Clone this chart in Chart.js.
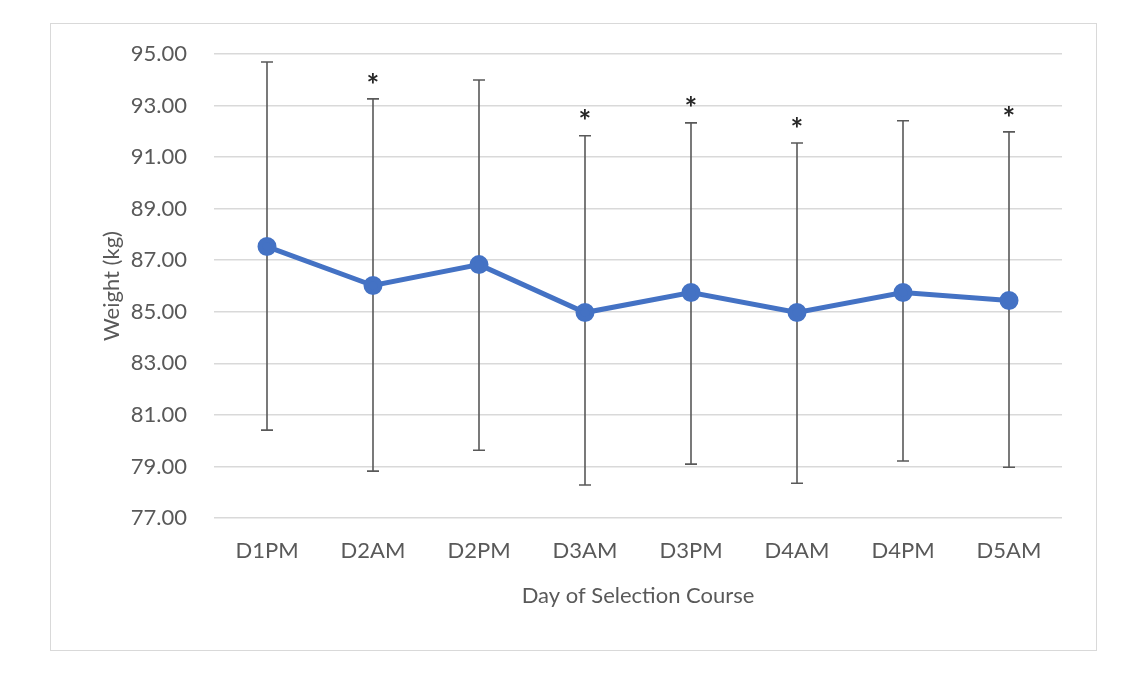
<!DOCTYPE html>
<html lang="en">
<head>
    <meta charset="UTF-8">
    <script src="https://cdn.jsdelivr.net/npm/chart.js"></script>
    <title>Weight by day</title>
    <style>
        body { margin: 0; background: #fff; }
        #frame { position: absolute; left: 50px; top: 23px; width: 1045px; height: 626px; border: 1.5px solid #d9d9d9; }
        #wrap { position: absolute; left: 0; top: 0; width: 1130px; height: 680px; }
    </style>
</head>
<body>
    <div id="frame"></div>
    <div id="wrap">
        <canvas id="grafico"></canvas>
    </div>

    <script>
        const dias = ['D1PM', 'D2AM', 'D2PM', 'D3AM', 'D3PM', 'D4AM', 'D4PM', 'D5AM']
        const peso = [87.53, 86.02, 86.83, 84.97, 85.75, 84.97, 85.75, 85.44]
        const erroAlto = [94.69, 93.26, 93.99, 91.83, 92.33, 91.55, 92.41, 91.98]
        const erroBaixo = [80.41, 78.82, 79.63, 78.28, 79.09, 78.35, 79.21, 78.97]
        const significativo = [false, true, false, true, true, true, false, true]
        const fonte = 'Lato'

        // barras de erro e asteriscos desenhados com as escalas do grafico
        const barrasErro = {
            id: 'barrasErro',
            beforeDatasetsDraw(chart) {
                const c = chart.ctx
                const x = chart.scales.x
                const y = chart.scales.y
                c.save()
                c.strokeStyle = '#595959'
                c.lineWidth = 1.6
                dias.forEach((d, i) => {
                    const px = x.getPixelForValue(i)
                    const top = y.getPixelForValue(erroAlto[i])
                    const bot = y.getPixelForValue(erroBaixo[i])
                    c.beginPath()
                    c.moveTo(px, top); c.lineTo(px, bot)
                    c.moveTo(px - 6, top); c.lineTo(px + 6, top)
                    c.moveTo(px - 6, bot); c.lineTo(px + 6, bot)
                    c.stroke()
                    if (significativo[i]) {
                        c.fillStyle = '#262626'
                        c.font = 'bold 30px ' + fonte
                        c.textAlign = 'center'
                        c.textBaseline = 'middle'
                        c.fillText('*', px, top - 13)
                    }
                })
                c.restore()
            }
        }

        const ctx = document.getElementById('grafico')

        let grafico = new Chart(ctx, {
            type: 'line',
            data: {
                labels: dias,
                datasets: [{
                    label: 'Weight',
                    data: peso,
                    borderColor: '#4472C4',
                    backgroundColor: '#4472C4',
                    borderWidth: 5,
                    pointRadius: 7,
                    pointHoverRadius: 7,
                    tension: 0
                }]
            },
            options: {
                responsive: true,
                maintainAspectRatio: false,
                animation: false,
                layout: { padding: { left: 95, top: 54, right: 68, bottom: 67 } },
                plugins: { legend: { display: false }, tooltip: { enabled: false } },
                scales: {
                    x: {
                        offset: true,
                        grid: { display: false },
                        border: { display: false },
                        ticks: { color: '#595959', padding: 12, font: { family: fonte, size: 22 } },
                        title: { display: true, text: 'Day of Selection Course', color: '#595959', font: { family: fonte, size: 22 } },
                        afterFit(s) { s.height = 95 }
                    },
                    y: {
                        min: 77,
                        max: 95,
                        grid: { color: '#d9d9d9', lineWidth: 1.5, drawTicks: false },
                        border: { display: false },
                        ticks: {
                            stepSize: 2,
                            color: '#595959',
                            padding: 27,
                            font: { family: fonte, size: 22 },
                            callback: v => v.toFixed(2)
                        },
                        title: { display: true, text: 'Weight (kg)', color: '#595959', font: { family: fonte, size: 22 } },
                        afterFit(s) { s.width = 119 }
                    }
                }
            },
            plugins: [barrasErro]
        })
    </script>
</body>
</html>
